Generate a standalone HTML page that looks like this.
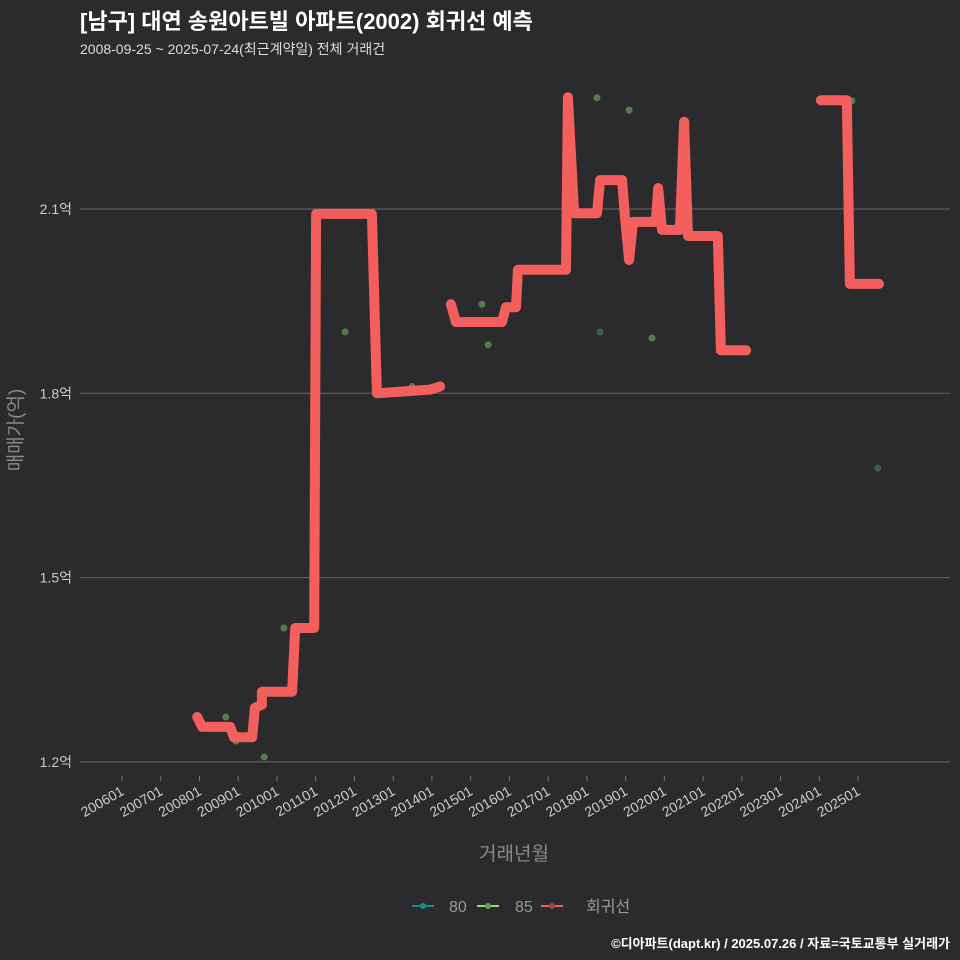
<!DOCTYPE html>
<html><head><meta charset="utf-8"><style>
body{margin:0;background:#2b2b2d;}
svg{display:block;font-family:"Liberation Sans","Noto Sans CJK KR",sans-serif;}
</style></head><body>
<svg id="c" width="960" height="960">
<rect width="960" height="960" fill="#2b2b2d"/>
<text x="80" y="29" fill="#fff" font-size="22" font-weight="bold">[남구] 대연 송원아트빌 아파트(2002) 회귀선 예측</text>
<text x="80" y="54" fill="#ddd" font-size="14">2008-09-25 ~ 2025-07-24(최근계약일) 전체 거래건</text>
<g id="grid"></g><g id="pts"></g><g id="lines"></g><g id="xt"></g>
<text x="514" y="860" fill="#888" font-size="19" text-anchor="middle">거래년월</text>
<text transform="translate(22,430) rotate(-90)" fill="#888" font-size="19" text-anchor="middle">매매가(억)</text>
<g>
<line x1="412" y1="906" x2="434" y2="906" stroke="#1f8a8a" stroke-width="2"/><circle cx="423" cy="906" r="3" fill="#1f8a8a"/>
<text x="449" y="912" fill="#999" font-size="16">80</text>
<line x1="477" y1="906" x2="499" y2="906" stroke="#8ee06a" stroke-width="2"/><circle cx="488" cy="906" r="3" fill="#6aa050"/>
<text x="515" y="912" fill="#999" font-size="16">85</text>
<line x1="541" y1="906" x2="563" y2="906" stroke="#f25f5c" stroke-width="2"/><circle cx="552" cy="906" r="3" fill="#a04848"/>
<text x="586" y="912" fill="#999" font-size="16">회귀선</text>
</g>
<text x="950" y="948" fill="#fff" font-size="13" font-weight="bold" text-anchor="end">©디아파트(dapt.kr) / 2025.07.26 / 자료=국토교통부 실거래가</text>
</svg>
<script>
const yTicks=[1.2,1.5,1.8,2.1];
const yTickLabels=["1.2억","1.5억","1.8억","2.1억"];
const xTickYears=[2006,2007,2008,2009,2010,2011,2012,2013,2014,2015,2016,2017,2018,2019,2020,2021,2022,2023,2024,2025];
const xTickLabels=["200601","200701","200801","200901","201001","201101","201201","201301","201401","201501","201601","201701","201801","201901","202001","202101","202201","202301","202401","202501"];
const seg1X=[2007.94,2008.07,2008.79,2008.89,2009.36,2009.43,2009.61,2009.61,2010.39,2010.47,2010.96,2011.01,2012.45,2012.58,2013.95,2014.21];
const seg1V=[1.273,1.257,1.257,1.240,1.240,1.288,1.293,1.314,1.314,1.418,1.418,2.092,2.092,1.800,1.806,1.811];
const seg2X=[2014.49,2014.62,2015.81,2015.91,2016.17,2016.22,2017.46,2017.51,2017.67,2018.26,2018.34,2018.91,2018.98,2019.09,2019.19,2019.78,2019.84,2019.94,2020.40,2020.51,2020.61,2021.38,2021.46,2022.11];
const seg2V=[1.945,1.916,1.916,1.940,1.940,2.001,2.001,2.282,2.093,2.093,2.147,2.147,2.090,2.017,2.079,2.079,2.134,2.066,2.066,2.242,2.056,2.056,1.870,1.870];
const seg3X=[2024.04,2024.71,2024.79,2025.54];
const seg3V=[2.277,2.277,1.978,1.978];
const ptX=[2008.68,2008.94,2009.67,2010.18,2011.76,2013.49,2015.29,2015.45,2018.26,2018.34,2019.09,2019.68,2020.56,2024.84,2025.51];
const ptV=[1.273,1.234,1.208,1.418,1.900,1.811,1.945,1.879,2.281,1.900,2.261,1.890,2.240,2.276,1.678];
const ptType=["85","85","85","85","85","85","85","85","85","80","85","85","85","85","80"];
const X=t=>122+(t-2006)*38.74;
const Y=v=>209+(2.1-v)*614.3;
const NS="http://www.w3.org/2000/svg";
function mk(tag,attrs,parent){const e=document.createElementNS(NS,tag);for(const k in attrs)e.setAttribute(k,attrs[k]);document.getElementById(parent).appendChild(e);return e;}
yTicks.forEach((v,i)=>{
 const l=mk('line',{x1:80,x2:950,y1:Y(v),y2:Y(v),stroke:'#5e5e60','stroke-width':1.2},'grid');
 
 
 const t=mk('text',{x:72,y:Y(v)+5,fill:'#ccc','font-size':14,'text-anchor':'end'},'grid');
 t.textContent=yTickLabels[i];
 
 
});
xTickYears.forEach((yr,i)=>{
 const x=X(yr);
 const tk=mk('line',{x1:x,x2:x,y1:776,y2:781,stroke:'#777'},'xt');
 
 
 const t=mk('text',{transform:`translate(${x+3},${794}) rotate(-30)`,fill:'#ccc','font-size':14,'text-anchor':'end'},'xt');
 t.textContent=xTickLabels[i];
 
 
});
ptX.forEach((t,i)=>{
 const c=mk('circle',{cx:X(t),cy:Y(ptV[i]),r:3.5,fill:ptType[i]==="80"?'#3e6a5a':'#5d8a50','fill-opacity':0.85},'pts');
 
 
});
[[seg1X,seg1V],[seg2X,seg2V],[seg3X,seg3V]].forEach(([xs,vs],k)=>{
 const d=xs.map((t,i)=>(i?'L':'M')+X(t).toFixed(1)+','+Y(vs[i]).toFixed(1)).join('');
 const p=mk('path',{d:d,fill:'none',stroke:'#f25f5c','stroke-width':10,'stroke-linejoin':'round','stroke-linecap':'round'},'lines');
 
 
});
</script>
</body></html>
